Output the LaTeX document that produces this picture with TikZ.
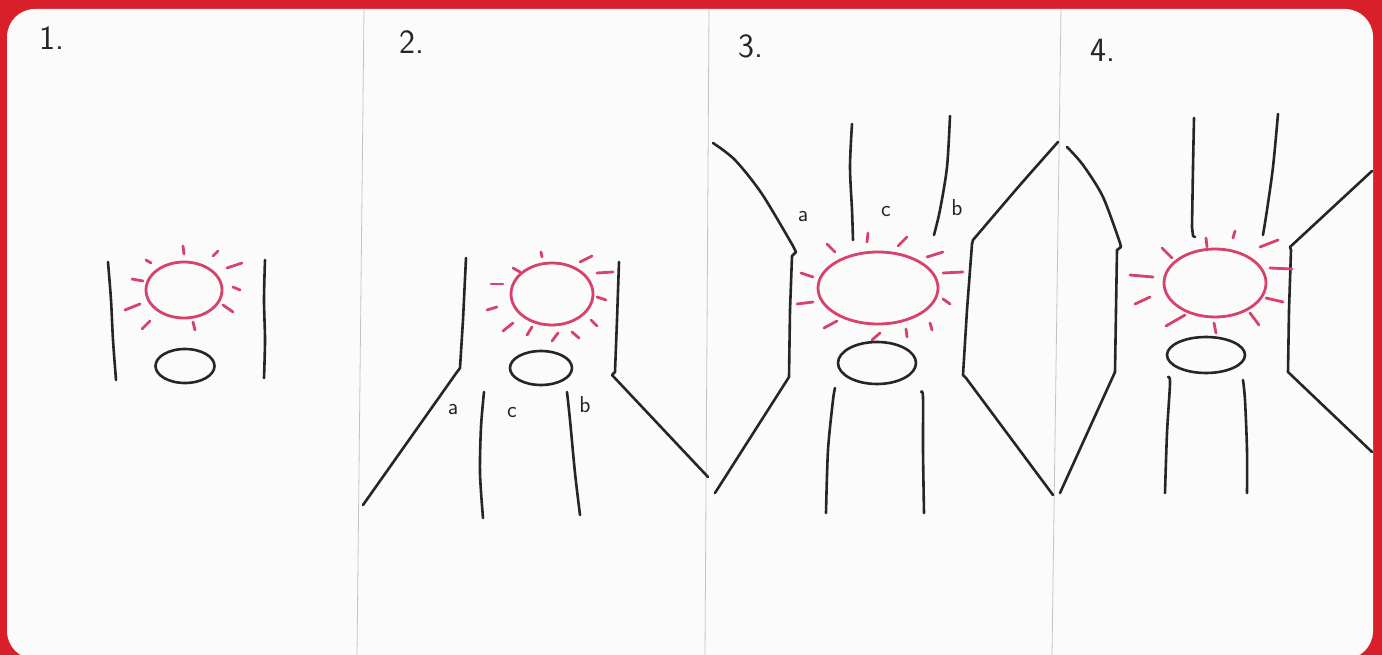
\documentclass[tikz,border=0pt]{standalone}
\definecolor{frame}{HTML}{D9202A}
\definecolor{ink}{HTML}{262626}
\definecolor{pink}{HTML}{D6426A}
\definecolor{divider}{HTML}{C4C4C4}
\definecolor{paper}{HTML}{FBFBFB}
\tikzset{
  blk/.style={ink, line width=2.6, line cap=round, line join=round},
  rd/.style={pink, line width=2.8, line cap=round, line join=round},
  num/.style={ink, font=\sffamily\fontsize{34}{34}\selectfont, inner sep=0pt},
  lbl/.style={ink, font=\sffamily\fontsize{23}{23}\selectfont, inner sep=0pt},
  sep/.style={divider, line width=0.8}
}
\begin{document}
\begin{tikzpicture}[x=1pt,y=-1pt]
\useasboundingbox (0,0) rectangle (1382,655);
\fill[frame] (0,0) rectangle (1382,655);
\fill[paper, rounded corners=28] (7,9) rectangle (1373,659);
% dividers
\draw[sep] (364,9) -- (357,655);
\draw[sep] (709,9) -- (705,655);
\draw[sep] (1061,9) -- (1052,655);
% numbers
\node[num] (n1) at (52,38) {1.};
\node[num] (n2) at (412,42) {2.};
\node[num] (n3) at (751,46) {3.};
\node[num] (n4) at (1103,50) {4.};

% ---------- panel 1
\draw[blk] plot[smooth] coordinates {(108,262) (111,300) (113,340) (116,380)};
\draw[blk] plot[smooth] coordinates {(265,260) (264,300) (265,340) (264,378)};
\draw[rd] (184,290) ellipse [x radius=38, y radius=28];
\foreach \a/\b in {{(183,246)}/{(184,254)}, {(213,256)}/{(218,251)}, {(227,268)}/{(242,263)},
  {(233,287)}/{(240,290)}, {(223,305)}/{(233,312)}, {(193,322)}/{(195,330)},
  {(150,321)}/{(142,329)}, {(140,304)}/{(125,310)}, {(132,279)}/{(143,281)}, {(146,260)}/{(151,263)}}
  \draw[rd] \a -- \b;
\draw[blk] (185,366) ellipse [x radius=29.5, y radius=17];

% ---------- panel 2
\draw[blk] (466,258) -- (463,320) -- (460,368) -- (457,372) -- (363,505);
\draw[blk] (619,262) -- (617,320) -- (615,372) -- (612,375) -- (708,477);
\draw[blk] plot[smooth] coordinates {(484,392) (481,427) (480,473) (483,518)};
\draw[blk] plot[smooth] coordinates {(567,392) (570,420) (575,473) (580,515)};
\draw[rd] (552,294) ellipse [x radius=41, y radius=31];
\foreach \a/\b in {{(541,252)}/{(542,257)}, {(580,262)}/{(592,256)}, {(597,273)}/{(613,272)},
  {(597,297)}/{(606,300)}, {(591,320)}/{(597,326)}, {(572,332)}/{(579,338)},
  {(558,333)}/{(552,341)}, {(532,327)}/{(527,335)}, {(513,323)}/{(503,331)},
  {(497,307)}/{(487,310)}, {(491,284)}/{(503,284)}, {(513,268)}/{(520,272)}}
  \draw[rd] \a -- \b;
\draw[blk] (541,368) ellipse [x radius=31, y radius=17];
\node[lbl] (a2) at (453,410) {a};
\node[lbl] (c2) at (512,413) {c};
\node[lbl] (b2) at (585,405) {b};

% ---------- panel 3
\draw[blk] plot[smooth] coordinates {(713,143) (735,160) (762,194) (793,246)} -- (796,252) -- (792,256) -- (790,310) -- (789,377) -- (715,493);
\draw[blk] plot[smooth] coordinates {(1058,142) (1020,185) (973,240)} -- (972,244) -- (967,310) -- (963,375) -- (966,378) -- (1053,495);
\draw[blk] plot[smooth] coordinates {(852,124) (850,167) (852,210) (853,240)};
\draw[blk] plot[smooth] coordinates {(950,116) (947,167) (940,210) (934,235)};
\draw[blk] plot[smooth] coordinates {(835,388) (833,400) (828,450) (826,513)};
\draw[blk] plot[smooth] coordinates {(921,392) (923,397) (923,450) (924,513)};
\draw[rd] (878,288) ellipse [x radius=60, y radius=36];
\foreach \a/\b in {{(827,244)}/{(835,252)}, {(868,233)}/{(867,242)}, {(907,237)}/{(898,246)},
  {(927,257)}/{(943,252)}, {(943,273)}/{(963,272)}, {(943,299)}/{(950,304)},
  {(930,323)}/{(932,330)}, {(906,329)}/{(907,337)}, {(880,333)}/{(872,340)},
  {(837,321)}/{(824,328)}, {(813,302)}/{(797,304)}, {(813,277)}/{(801,273)}}
  \draw[rd] \a -- \b;
\draw[blk] (877,363) ellipse [x radius=39, y radius=21];
\node[lbl] (a3) at (803,217) {a};
\node[lbl] (c3) at (886,212) {c};
\node[lbl] (b3) at (957,208) {b};

% ---------- panel 4
\draw[blk] plot[smooth] coordinates {(1067,147) (1083,165) (1103,197) (1120,243)} -- (1121,247) -- (1117,250) -- (1116,310) -- (1115,372) -- (1060,493);
\draw[blk] (1372,171) -- (1290,247) -- (1291,250) -- (1289,310) -- (1288,372) -- (1372,452);
\draw[blk] plot[smooth] coordinates {(1194,118) (1193,167) (1192,227)} -- (1193,236) -- (1195,237);
\draw[blk] plot[smooth] coordinates {(1278,114) (1273,167) (1267,210) (1263,235)};
\draw[blk] plot[smooth] coordinates {(1168,377) (1170,383) (1167,433) (1165,493)};
\draw[blk] plot[smooth] coordinates {(1243,380) (1245,400) (1247,450) (1247,493)};
\draw[rd] (1215,283) ellipse [x radius=51, y radius=34];
\foreach \a/\b in {{(1162,248)}/{(1172,258)}, {(1206,238)}/{(1207,247)}, {(1235,231)}/{(1233,238)},
  {(1260,247)}/{(1278,240)}, {(1270,268)}/{(1292,269)}, {(1266,298)}/{(1283,302)},
  {(1250,313)}/{(1259,325)}, {(1214,323)}/{(1216,333)}, {(1185,315)}/{(1166,326)},
  {(1150,297)}/{(1135,304)}, {(1153,277)}/{(1130,275)}}
  \draw[rd] \a -- \b;
\draw[blk] (1206,355) ellipse [x radius=39, y radius=18];
\end{tikzpicture}
\end{document}
